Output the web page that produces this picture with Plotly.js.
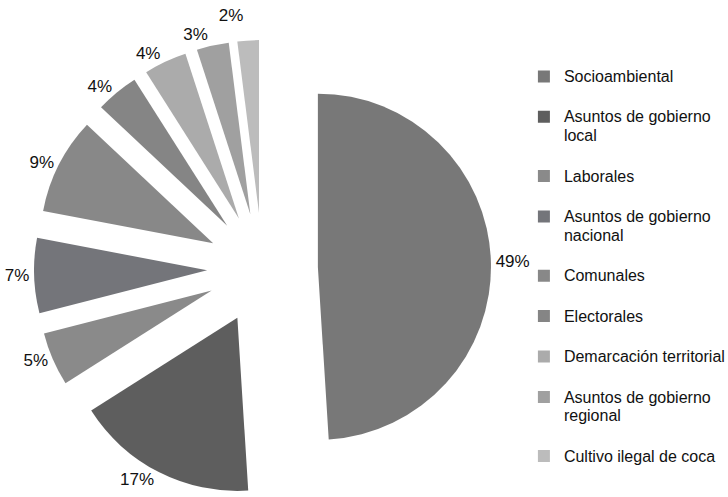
<!DOCTYPE html>
<html>
<head>
<meta charset="utf-8">
<script src="https://cdn.plot.ly/plotly-3.0.1.min.js"></script>
<style>
html,body{margin:0;padding:0;background:#ffffff;}
.textline{display:none !important;}
</style>
</head>
<body>
<div id="chart" style="width:728px;height:497px;"></div>
<script>
// ---- data ----
const categories = [
  "Socioambiental",
  "Asuntos de gobierno local",
  "Laborales",
  "Asuntos de gobierno nacional",
  "Comunales",
  "Electorales",
  "Demarcación territorial",
  "Asuntos de gobierno regional",
  "Cultivo ilegal de coca"
];
const legendLines = [
  ["Socioambiental"],
  ["Asuntos de gobierno", "local"],
  ["Laborales"],
  ["Asuntos de gobierno", "nacional"],
  ["Comunales"],
  ["Electorales"],
  ["Demarcación territorial"],
  ["Asuntos de gobierno", "regional"],
  ["Cultivo ilegal de coca"]
];
const shares = [49, 17, 5, 7, 9, 4, 4, 3, 2];
const sliceColors = ["#787878", "#5e5e5e", "#8a8a8a", "#74757a", "#888888", "#858585", "#ababab", "#a0a0a0", "#bcbcbc"];

// ---- build ----
const labels = legendLines.map(lines =>
  lines.map(s => '<span style="font-size:16px">' + s + '</span>').join('<br>') + '<br> '
);
const pctText = shares.map(v => v + '%');

const trace = {
  type: 'pie',
  labels: labels,
  values: shares,
  text: pctText,
  textinfo: 'text',
  textposition: 'outside',
  outsidetextfont: {family: 'Arial, "Liberation Sans", sans-serif', size: 17, color: '#111111'},
  sort: false,
  direction: 'clockwise',
  rotation: 0,
  pull: 0.32,
  marker: {colors: sliceColors, line: {width: 0}},
  hoverinfo: 'none',
  customdata: categories
};

const layout = {
  width: 728,
  height: 497,
  paper_bgcolor: '#ffffff',
  plot_bgcolor: '#ffffff',
  margin: {l: 34, r: 237, t: 40, b: 0, autoexpand: false},
  font: {family: 'Arial, "Liberation Sans", sans-serif', color: '#111111'},
  showlegend: true,
  legend: {
    x: 1.072, xanchor: 'left',
    y: 0.955, yanchor: 'top',
    valign: 'top',
    font: {size: 14.4, color: '#111111'},
    bgcolor: 'rgba(0,0,0,0)',
    borderwidth: 0
  }
};

Plotly.newPlot('chart', [trace], layout, {displayModeBar: false, staticPlot: true});
</script>
</body>
</html>
